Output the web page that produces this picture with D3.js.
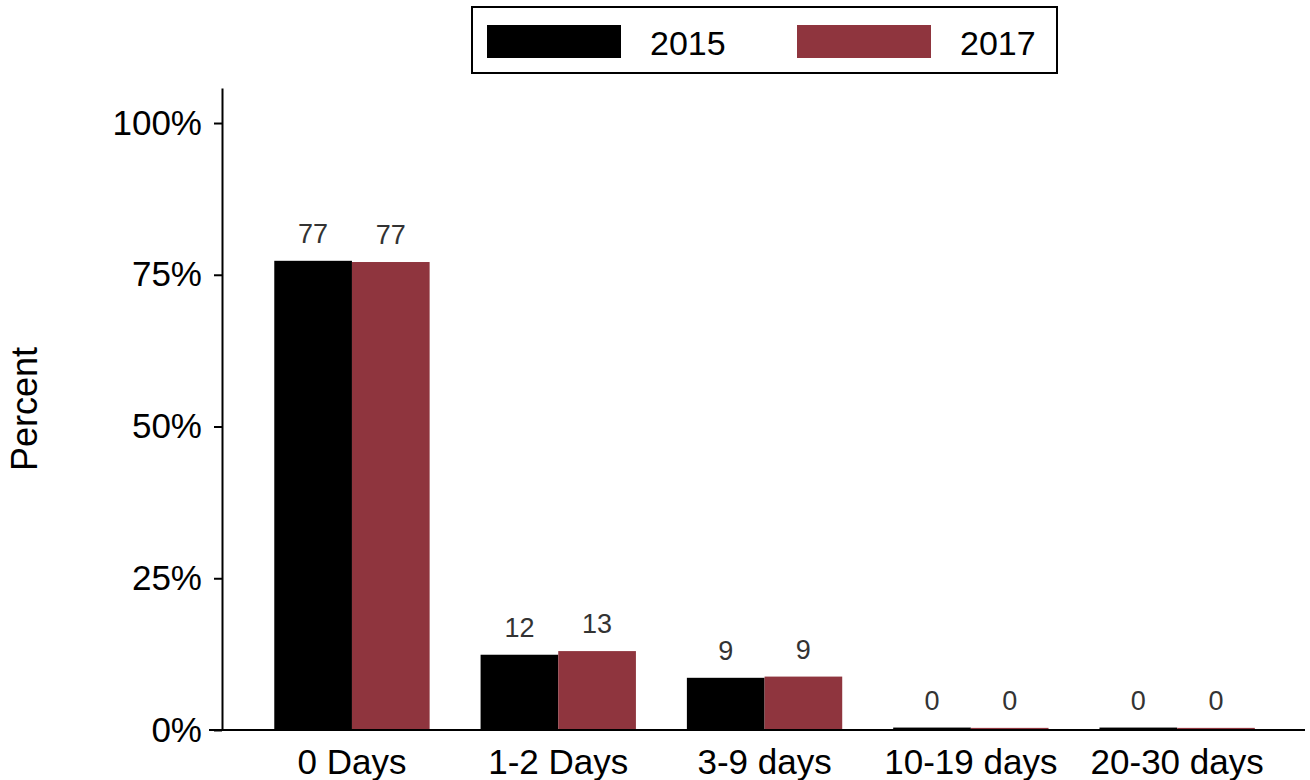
<!DOCTYPE html>
<html>
<head>
<meta charset="utf-8">
<script src="https://cdn.jsdelivr.net/npm/d3@7"></script>
<style>
  html, body { margin: 0; padding: 0; background: #fff; }
  svg { display: block; font-family: "Liberation Sans", Arial, Helvetica, sans-serif; }
</style>
</head>
<body>
<svg id="chart" width="1310" height="780"></svg>
<script>
const categories = ["0 Days", "1-2 Days", "3-9 days", "10-19 days", "20-30 days"];
const seriesNames = ["2015", "2017"];
const values2015 = [77.3, 12.4, 8.6, 0.4, 0.4];
const values2017 = [77.1, 13.0, 8.8, 0.35, 0.35];
const barLabels2015 = ["77", "12", "9", "0", "0"];
const barLabels2017 = ["77", "13", "9", "0", "0"];
const yTicks = [0, 25, 50, 75, 100];
const colors = ["#000000", "#8f353e"];

const svg = d3.select("#chart");

const panel = { left: 209, right: 1305, top: 88, bottom: 730 };

const x = d3.scaleBand()
  .domain(categories)
  .range([248.8, 1280.3])
  .paddingInner(0.247)
  .paddingOuter(0.1235);

const xs = d3.scaleBand()
  .domain(seriesNames)
  .range([0, x.bandwidth()]);

const y = d3.scaleLinear()
  .domain([0, 105.77])
  .range([panel.bottom, panel.top]);

const color = d3.scaleOrdinal().domain(seriesNames).range(colors);

const rows = categories.map((c, i) => ({
  cat: c,
  vals: [
    { s: "2015", v: values2015[i], lab: barLabels2015[i] },
    { s: "2017", v: values2017[i], lab: barLabels2017[i] }
  ]
}));

// bars
const g = svg.append("g");
const groups = g.selectAll("g.grp").data(rows).join("g")
  .attr("class", "grp")
  .attr("transform", d => `translate(${x(d.cat)},0)`);

groups.selectAll("rect").data(d => d.vals).join("rect")
  .attr("x", d => xs(d.s))
  .attr("width", xs.bandwidth())
  .attr("y", d => y(d.v))
  .attr("height", d => y(0) - y(d.v))
  .attr("fill", d => color(d.s));

groups.selectAll("text").data(d => d.vals).join("text")
  .attr("x", d => xs(d.s) + xs.bandwidth() / 2)
  .attr("y", d => y(d.v) - 18)
  .attr("text-anchor", "middle")
  .attr("font-size", 27)
  .attr("fill", "#333333")
  .text(d => d.lab);

// y axis
const yAxis = svg.append("g")
  .attr("transform", `translate(222,0)`)
  .call(d3.axisLeft(y).tickValues(yTicks).tickFormat(d => d + "%").tickSize(8).tickSizeOuter(0).tickPadding(12));
yAxis.select(".domain").attr("stroke", "#000").attr("stroke-width", 2);
yAxis.selectAll(".tick line").attr("stroke", "#000").attr("stroke-width", 2);
yAxis.selectAll(".tick text")
  .attr("font-size", 35)
  .attr("fill", "#000")
  .attr("font-family", "'Liberation Sans', Arial, Helvetica, sans-serif");

// x axis
const xAxis = svg.append("g")
  .attr("transform", `translate(0,${panel.bottom})`)
  .call(d3.axisBottom(x).tickSize(0).tickPadding(19));
xAxis.select(".domain").remove();
xAxis.selectAll(".tick text")
  .attr("font-size", 35)
  .attr("fill", "#000")
  .attr("font-family", "'Liberation Sans', Arial, Helvetica, sans-serif");
svg.append("line")
  .attr("x1", panel.left).attr("x2", panel.right)
  .attr("y1", y(0)).attr("y2", y(0))
  .attr("stroke", "#000").attr("stroke-width", 2);

// y axis title
svg.append("text")
  .attr("transform", `translate(37,${(panel.top + panel.bottom) / 2}) rotate(-90)`)
  .attr("text-anchor", "middle")
  .attr("font-size", 36)
  .attr("fill", "#000")
  .text("Percent");

// legend
const legend = svg.append("g");
legend.append("rect")
  .attr("x", 472).attr("y", 7).attr("width", 585).attr("height", 66)
  .attr("fill", "#fff").attr("stroke", "#000").attr("stroke-width", 2);
const items = legend.selectAll("g.item").data(seriesNames).join("g")
  .attr("class", "item")
  .attr("transform", (d, i) => `translate(${487 + i * 310},0)`);
items.append("rect")
  .attr("x", 0).attr("y", 25).attr("width", 134).attr("height", 33)
  .attr("fill", d => color(d));
items.append("text")
  .attr("x", 163).attr("y", 55)
  .attr("font-size", 34)
  .attr("fill", "#000")
  .text(d => d);
</script>
</body>
</html>
